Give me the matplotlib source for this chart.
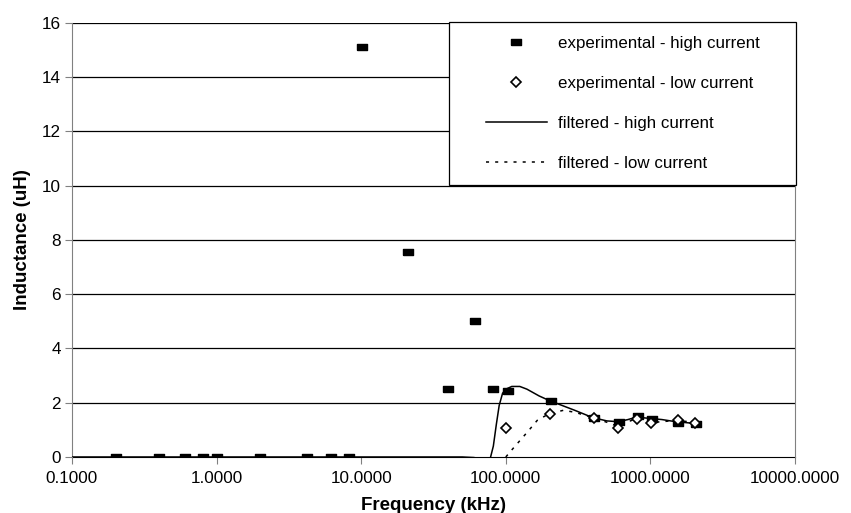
import numpy as np
import matplotlib
matplotlib.use("Agg")
import matplotlib.pyplot as plt
from matplotlib.patches import Rectangle
from matplotlib.ticker import FixedLocator, FuncFormatter, NullLocator

plt.rcParams['font.family'] = ['Liberation Sans', 'DejaVu Sans']

# experimental data (kHz, uH)
f_high = [0.2, 0.4, 0.6, 0.8, 1.0, 2.0, 4.2, 6.2, 8.3, 10.2, 21, 40, 61, 82, 103, 206, 410, 610, 820, 1030, 1550, 2080]
L_high = [0, 0, 0, 0, 0, 0, 0, 0, 0, 15.1, 7.56, 2.5, 5.03, 2.5, 2.45, 2.08, 1.44, 1.29, 1.51, 1.4, 1.24, 1.22]

f_low = [101, 203, 410, 600, 810, 1010, 1540, 2040]
L_low = [1.07, 1.59, 1.44, 1.07, 1.41, 1.25, 1.36, 1.27]

# filtered curves
ff_high = [0.1, 1, 10, 50, 60, 65, 70, 78, 82, 86, 90, 95, 100, 110, 125, 140, 170, 200, 300, 400, 500, 600, 700, 800, 1000, 1200, 1500, 2000]
Lf_high = [0, 0, 0, 0, -0.02, -0.05, -0.07, -0.06, 0.4, 1.2, 1.9, 2.35, 2.5, 2.6, 2.6, 2.5, 2.25, 2.08, 1.72, 1.45, 1.33, 1.3, 1.38, 1.47, 1.42, 1.38, 1.3, 1.24]

ff_low = [100, 110, 125, 140, 165, 200, 250, 300, 400, 500, 600, 700, 800, 1000, 1200, 1500, 2000]
Lf_low = [0, 0.26, 0.6, 0.9, 1.35, 1.6, 1.72, 1.65, 1.45, 1.28, 1.12, 1.3, 1.41, 1.27, 1.3, 1.35, 1.28]

fig = plt.figure(figsize=(8.51, 5.13), dpi=100)
ax = fig.add_axes([0.0846, 0.1092, 0.8496, 0.8460])

rect = [(-1, -0.62), (1, -0.62), (1, 0.62), (-1, 0.62), (-1, -0.62)]

ax.plot(f_high, L_high, linestyle='none', marker=rect, markersize=6.5,
        color='black', label='experimental - high current', zorder=4)
ax.plot(f_low, L_low, linestyle='none', marker='D', markersize=5, markerfacecolor='white',
        markeredgecolor='black', markeredgewidth=1.2, label='experimental - low current', zorder=5)
ax.plot(ff_high, Lf_high, color='black', linewidth=1.1, label='filtered - high current', zorder=3)
ax.plot(ff_low, Lf_low, color='black', linewidth=1.1, linestyle=(0, (2, 4)),
        label='filtered - low current', zorder=3)

ax.set_xscale('log')
ax.set_xlim(0.1, 10000)
ax.set_ylim(0, 16)
ax.xaxis.set_major_locator(FixedLocator([0.1, 1, 10, 100, 1000, 10000]))
ax.xaxis.set_minor_locator(NullLocator())
ax.xaxis.set_major_formatter(FuncFormatter(lambda v, p: '%.4f' % v))
ax.set_yticks(range(0, 17, 2))

for y in range(2, 17, 2):
    ax.axhline(y, color='black', linewidth=0.9, zorder=1)

ax.spines['left'].set_color('#808080')
ax.spines['right'].set_color('#808080')
ax.spines['top'].set_visible(False)
ax.spines['bottom'].set_color('black')
ax.spines['bottom'].set_zorder(2)
ax.tick_params(axis='both', labelsize=12.3, length=5, color='#808080', direction='out')
ax.tick_params(axis='x', pad=5)
ax.tick_params(axis='y', pad=3)

ax.set_xlabel('Frequency (kHz)', fontsize=13.5, fontweight='bold', labelpad=8)
ax.set_ylabel('Inductance (uH)', fontsize=13.5, fontweight='bold', labelpad=8)

# legend frame drawn separately to get the wide side padding
ax.add_patch(Rectangle((0.5214, 0.6267), 0.48, 0.3756, transform=ax.transAxes,
                       facecolor='white', edgecolor='black', linewidth=0.9,
                       clip_on=False, zorder=9))
leg = ax.legend(loc='upper left', bbox_to_anchor=(0.5726, 0.970), frameon=False,
                fontsize=12.2, handlelength=3.6, labelspacing=1.48, borderpad=0,
                handletextpad=0.66, borderaxespad=0)
leg.set_zorder(10)

fig.savefig('out.png', dpi=100)
